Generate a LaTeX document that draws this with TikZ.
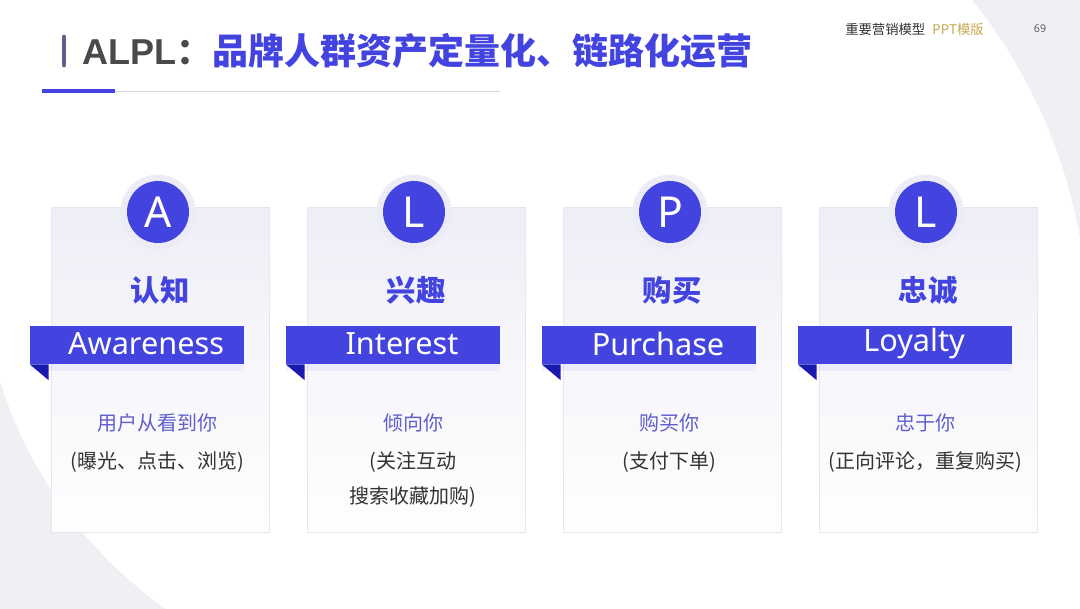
\documentclass[tikz,border=0pt]{standalone}
\usepackage{fontspec}
\setmainfont{Noto Sans}
\newfontfamily\cjk{Noto Sans CJK SC}
\newfontfamily\headlatin{Liberation Sans}
\usetikzlibrary{positioning,shadows}
\definecolor{brand}{HTML}{4343E0}
\definecolor{fold}{HTML}{1A1AB0}
\definecolor{ink}{HTML}{333333}
\definecolor{titleink}{HTML}{4A4A4A}
\definecolor{soft}{HTML}{5E5ECC}
\definecolor{halo}{HTML}{ECECF6}
\definecolor{cardtop}{HTML}{EEEEF7}
\definecolor{edge}{HTML}{E6E6EE}
\definecolor{gold}{HTML}{C8A84E}
\definecolor{bar}{HTML}{6E5B8C}
\definecolor{wash}{HTML}{EFF0F4}
\definecolor{rule}{HTML}{D6D6DC}
\tikzset{
  card/.style={draw=edge, top color=cardtop, bottom color=white!97!cardtop,
               minimum width=163.5pt, minimum height=243.75pt, inner sep=0pt,
               line width=0.4pt},
  badge/.style={circle, fill=brand, minimum size=46.5pt, inner sep=0pt,
                text=white, font=\fontsize{32}{36}\selectfont},
  badgehalo/.style={circle, fill=halo, minimum size=56pt, inner sep=0pt},
  heading/.style={text=brand, font=\cjk\bfseries\fontsize{22}{26}\selectfont},
  ribbon/.style={fill=brand, minimum width=160.5pt, minimum height=28.5pt, inner sep=0pt,
                 drop shadow={shadow xshift=0pt, shadow yshift=-5pt, opacity=0.06, fill=brand}},
  ribbontext/.style={text=white, font=\fontsize{23}{27}\selectfont},
  lead/.style={text=soft, font=\cjk\fontsize{15}{18}\selectfont},
  detail/.style={text=ink, font=\cjk\fontsize{15}{18}\selectfont}
}

\begin{document}
\begin{tikzpicture}[x=0.75pt,y=-0.75pt]
        \useasboundingbox (0,0) rectangle (1080,608);
        % backdrop
        \fill[white] (0,0) rectangle (1080,608);
        \begin{scope}
          \clip (700,-10) rectangle (1090,340);
          \fill[wash,even odd rule] (-10,-10) rectangle (1090,620) (560,330) circle (528);
        \end{scope}
        \begin{scope}
          \clip (-10,380) rectangle (420,620);
          \fill[wash,even odd rule] (-10,-10) rectangle (1090,620) (420,250) circle (440);
        \end{scope}

        % header
        \draw[bar,line width=3.6pt,line cap=round] (64,37) -- (64,65);
        \node[anchor=west,inner sep=0pt] (title) at (82,51)
          {\fontsize{27}{32}\selectfont\bfseries\color{titleink}{\headlatin ALPL}\cjk：\color{brand}品牌人群资产定量化、链路化运营};
        \draw[brand,line width=2.4pt] (42,91) -- (115,91);
        \draw[rule,line width=0.6pt] (115,91) -- (500,91);
        \node[anchor=west,inner sep=0pt,text=ink,font=\cjk\fontsize{10}{12}\selectfont] (deck) at (845,29) {重要营销模型};
        \node[right=5pt of deck,inner sep=0pt,text=gold,font=\cjk\fontsize{10}{12}\selectfont] (tmpl) {PPT模版};
        \node[inner sep=0pt,text=ink!80,font=\fontsize{8}{10}\selectfont] (page) at (1040,29) {69};

        % A -- awareness
        \node[card] (card1) at (160,369.5) {};
        \node[badgehalo] (halo1) at (158,212) {};
        \node[badge] (badge1) at (158,212) {A};
        \node[heading] (head1) at (160,290) {认知};
        \node[ribbon] (rib1) at (137,345) {};
        \node[ribbontext] (ribtx1) at (146,344) {Awareness};
        \fill[fold] (rib1.south west) -- ++(19,0) -- ++(0,16) -- cycle;
        \node[lead] (lead1) at (157,423) {用户从看到你};
        \node[detail] (det1) at (157,462) {(曝光、点击、浏览)};

        % L -- interest
        \node[card] (card2) at (416,369.5) {};
        \node[badgehalo] (halo2) at (414,212) {};
        \node[badge] (badge2) at (414,212) {L};
        \node[heading] (head2) at (416,290) {兴趣};
        \node[ribbon] (rib2) at (393,345) {};
        \node[ribbontext] (ribtx2) at (402,344) {Interest};
        \fill[fold] (rib2.south west) -- ++(19,0) -- ++(0,16) -- cycle;
        \node[lead] (lead2) at (413,423) {倾向你};
        \node[detail] (det2) at (413,462) {(关注互动};
        \node[detail] (det2b) at (413,497) {搜索收藏加购)};

        % P -- purchase
        \node[card] (card3) at (672,369.5) {};
        \node[badgehalo] (halo3) at (670,212) {};
        \node[badge] (badge3) at (670,212) {P};
        \node[heading] (head3) at (672,290) {购买};
        \node[ribbon] (rib3) at (649,345) {};
        \node[ribbontext] (ribtx3) at (658,344) {Purchase};
        \fill[fold] (rib3.south west) -- ++(19,0) -- ++(0,16) -- cycle;
        \node[lead] (lead3) at (669,423) {购买你};
        \node[detail] (det3) at (669,462) {(支付下单)};

        % L -- loyalty
        \node[card] (card4) at (928,369.5) {};
        \node[badgehalo] (halo4) at (926,212) {};
        \node[badge] (badge4) at (926,212) {L};
        \node[heading] (head4) at (928,290) {忠诚};
        \node[ribbon] (rib4) at (905,345) {};
        \node[ribbontext] (ribtx4) at (914,344) {Loyalty};
        \fill[fold] (rib4.south west) -- ++(19,0) -- ++(0,16) -- cycle;
        \node[lead] (lead4) at (925,423) {忠于你};
        \node[detail] (det4) at (925,462) {(正向评论，重复购买)};
\end{tikzpicture}
\end{document}
